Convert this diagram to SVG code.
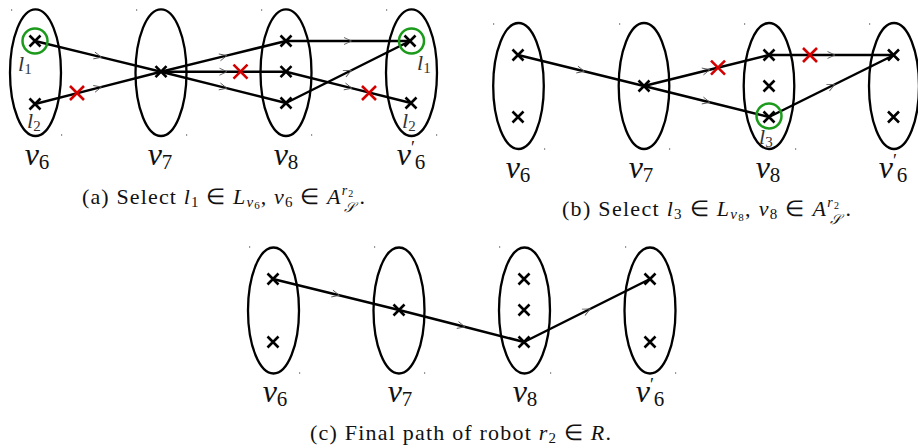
<svg xmlns="http://www.w3.org/2000/svg" xmlns:xlink="http://www.w3.org/1999/xlink" width="918" height="448" viewBox="0 0 918 448">
<style>
.ell{fill:none;stroke:#000;stroke-width:2.3}
.x{stroke:#000;stroke-width:2.6;fill:none}
.rx{stroke:#d40000;stroke-width:2.6;fill:none}
.gc{fill:none;stroke:#1c9a1c;stroke-width:2.5}
.e{fill:none;stroke:#000;stroke-width:2.5;marker-mid:url(#chev)}
.lab{font-family:"Liberation Serif",serif;font-style:italic;font-size:32px;fill:#111}
.sub{font-style:normal;font-size:21px}
.pr{font-style:normal;font-size:18px}
.ll{font-family:"Liberation Serif",serif;font-style:italic;font-size:22px;fill:#333}
.ls{font-style:normal;font-size:15px}
.cap{font-family:"Liberation Serif",serif;font-size:22px;fill:#111}
.i{font-style:italic}
.tk{fill:#999}
</style>
<defs>
<path id="cx" d="M-5.5,-5.5L5.5,5.5M-5.5,5.5L5.5,-5.5"/>
<path id="rcx" d="M-7,-7L7,7M-7,7L7,-7"/>
<marker id="chev" markerUnits="userSpaceOnUse" markerWidth="12" markerHeight="10" viewBox="-6 -5 12 10" refX="0" refY="0" orient="auto" overflow="visible">
<path d="M-4,-3.5L3.5,0L-4,3.5" fill="none" stroke="#555" stroke-width="0.9"/>
</marker>
</defs>

<!-- ===== Panel (a) ===== -->
<g id="panel-a">
<g id="a-ticks">
<rect class="tk" x="11" y="9" width="1.2" height="2"/><rect class="tk" x="136" y="9" width="1.2" height="2"/><rect class="tk" x="261" y="9" width="1.2" height="2"/><rect class="tk" x="386" y="9" width="1.2" height="2"/>
<rect class="tk" x="61" y="134" width="1.2" height="2"/><rect class="tk" x="186" y="134" width="1.2" height="2"/><rect class="tk" x="311" y="134" width="1.2" height="2"/><rect class="tk" x="436" y="134" width="1.2" height="2"/>
</g>
<g id="a-edges">
<polyline class="e" points="35,41 98,56.4 161,71.7"/>
<polyline class="e" points="35,104 98,87.9 161,71.7"/>
<polyline class="e" points="161,71.7 223.5,56.4 286,41"/>
<polyline class="e" points="161,71.7 223.5,71.7 286,71.7"/>
<polyline class="e" points="161,71.7 223.5,87.4 286,103"/>
<polyline class="e" points="286,41 348,41 410,41"/>
<polyline class="e" points="286,71.7 348.5,87.4 411,103"/>
<polyline class="e" points="286,103 348,72 410,41"/>
<use href="#rcx" x="77" y="93" class="rx"/>
<use href="#rcx" x="240.5" y="71.7" class="rx"/>
<use href="#rcx" x="369" y="93" class="rx"/>
</g>
<g id="a-v6">
<ellipse class="ell" cx="35.5" cy="72.7" rx="25.5" ry="63.3"/>
<use href="#cx" x="35" y="41" class="x"/><use href="#cx" x="35" y="104" class="x"/>
<circle class="gc" cx="35" cy="41" r="12.5"/>
<text class="ll" x="18" y="71">l<tspan class="ls" dy="3">1</tspan></text>
<text class="ll" x="27" y="128">l<tspan class="ls" dy="3">2</tspan></text>
<text class="lab" x="37" y="165" text-anchor="middle">v<tspan class="sub" dy="4">6</tspan></text>
</g>
<g id="a-v7">
<ellipse class="ell" cx="161" cy="72.7" rx="25.5" ry="63.3"/>
<use href="#cx" x="161" y="71.7" class="x"/>
<text class="lab" x="160" y="165" text-anchor="middle">v<tspan class="sub" dy="4">7</tspan></text>
</g>
<g id="a-v8">
<ellipse class="ell" cx="286" cy="72.7" rx="25.5" ry="63.3"/>
<use href="#cx" x="286" y="41" class="x"/><use href="#cx" x="286" y="71.7" class="x"/><use href="#cx" x="286" y="103" class="x"/>
<text class="lab" x="286" y="165" text-anchor="middle">v<tspan class="sub" dy="4">8</tspan></text>
</g>
<g id="a-v6p">
<ellipse class="ell" cx="411.5" cy="72.7" rx="25.5" ry="63.3"/>
<use href="#cx" x="410" y="41" class="x"/><use href="#cx" x="411" y="103" class="x"/>
<circle class="gc" cx="411.5" cy="41" r="12.5"/>
<text class="ll" x="417" y="70">l<tspan class="ls" dy="3">1</tspan></text>
<text class="ll" x="402" y="128">l<tspan class="ls" dy="3">2</tspan></text>
<text class="lab" x="411" y="165" text-anchor="middle">v<tspan class="pr" dy="-11">′</tspan><tspan class="sub" dy="15">6</tspan></text>
</g>
<text class="cap" x="82" y="203.5" textLength="283" lengthAdjust="spacing">(a) Select <tspan class="i">l</tspan><tspan font-size="15" dy="3">1</tspan><tspan dy="-3"> ∈ </tspan><tspan class="i">L</tspan><tspan class="i" font-size="15" dy="3">v</tspan><tspan font-size="11" dy="2">6</tspan><tspan dy="-5">, </tspan><tspan class="i">v</tspan><tspan font-size="15" dy="3">6</tspan><tspan dy="-3"> ∈ </tspan><tspan class="i">A</tspan><tspan class="i" font-size="14" dy="-9">r</tspan><tspan font-size="10" dy="2">2</tspan><tspan class="i" font-size="14" dx="-10" dy="15">𝒮</tspan><tspan dx="3" dy="-8">.</tspan></text>
</g>

<!-- ===== Panel (b) ===== -->
<g id="panel-b">
<g id="b-ticks">
<rect class="tk" x="493" y="23" width="1.2" height="2"/><rect class="tk" x="619" y="23" width="1.2" height="2"/><rect class="tk" x="744" y="23" width="1.2" height="2"/><rect class="tk" x="869" y="23" width="1.2" height="2"/>
<rect class="tk" x="544" y="148" width="1.2" height="2"/><rect class="tk" x="669" y="148" width="1.2" height="2"/><rect class="tk" x="795" y="148" width="1.2" height="2"/>
</g>
<g id="b-edges">
<polyline class="e" points="518,55 581,70.5 644,86"/>
<polyline class="e" points="644,86 706.5,70.5 769,55"/>
<polyline class="e" points="644,86 706.5,101.5 769,117"/>
<polyline class="e" points="769,55 831.5,55 894,55"/>
<polyline class="e" points="769,117 831.5,86 894,55"/>
<use href="#rcx" x="718" y="67.6" class="rx"/>
<use href="#rcx" x="810" y="55" class="rx"/>
</g>
<g id="b-v6">
<ellipse class="ell" cx="518.5" cy="86" rx="25.3" ry="63"/>
<use href="#cx" x="518" y="55" class="x"/><use href="#cx" x="518" y="117" class="x"/>
<text class="lab" x="518" y="178" text-anchor="middle">v<tspan class="sub" dy="4">6</tspan></text>
</g>
<g id="b-v7">
<ellipse class="ell" cx="644" cy="86" rx="25.3" ry="63"/>
<use href="#cx" x="644" y="86" class="x"/>
<text class="lab" x="641" y="178" text-anchor="middle">v<tspan class="sub" dy="4">7</tspan></text>
</g>
<g id="b-v8">
<ellipse class="ell" cx="769" cy="86" rx="25.3" ry="63"/>
<use href="#cx" x="769" y="55" class="x"/><use href="#cx" x="769" y="86" class="x"/><use href="#cx" x="769" y="117" class="x"/>
<circle class="gc" cx="769" cy="116" r="12.5"/>
<text class="ll" x="759" y="144">l<tspan class="ls" dy="3">3</tspan></text>
<text class="lab" x="768" y="178" text-anchor="middle">v<tspan class="sub" dy="4">8</tspan></text>
</g>
<g id="b-v6p">
<ellipse class="ell" cx="894" cy="86" rx="25" ry="63"/>
<use href="#cx" x="893.5" y="55" class="x"/><use href="#cx" x="893.5" y="117" class="x"/>
<text class="lab" x="893" y="178" text-anchor="middle">v<tspan class="pr" dy="-11">′</tspan><tspan class="sub" dy="15">6</tspan></text>
</g>
<text class="cap" x="562" y="215.5" textLength="289" lengthAdjust="spacing">(b) Select <tspan class="i">l</tspan><tspan font-size="15" dy="3">3</tspan><tspan dy="-3"> ∈ </tspan><tspan class="i">L</tspan><tspan class="i" font-size="15" dy="3">v</tspan><tspan font-size="11" dy="2">8</tspan><tspan dy="-5">, </tspan><tspan class="i">v</tspan><tspan font-size="15" dy="3">8</tspan><tspan dy="-3"> ∈ </tspan><tspan class="i">A</tspan><tspan class="i" font-size="14" dy="-9">r</tspan><tspan font-size="10" dy="2">2</tspan><tspan class="i" font-size="14" dx="-10" dy="15">𝒮</tspan><tspan dx="3" dy="-8">.</tspan></text>
</g>

<!-- ===== Panel (c) ===== -->
<g id="panel-c">
<g id="c-ticks">
<rect class="tk" x="249" y="246" width="1.2" height="2"/><rect class="tk" x="374" y="246" width="1.2" height="2"/><rect class="tk" x="499" y="246" width="1.2" height="2"/><rect class="tk" x="625" y="246" width="1.2" height="2"/>
<rect class="tk" x="299" y="372" width="1.2" height="2"/><rect class="tk" x="424" y="372" width="1.2" height="2"/><rect class="tk" x="550" y="372" width="1.2" height="2"/><rect class="tk" x="675" y="372" width="1.2" height="2"/>
</g>
<g id="c-edges">
<polyline class="e" points="273,279 336,294.5 399,310"/>
<polyline class="e" points="399,310 461.5,326 524,342"/>
<polyline class="e" points="524,342 587,310.5 650,279"/>
</g>
<g id="c-v6">
<ellipse class="ell" cx="273.5" cy="310.5" rx="25.5" ry="63"/>
<use href="#cx" x="273" y="279" class="x"/><use href="#cx" x="273" y="342" class="x"/>
<text class="lab" x="275" y="402" text-anchor="middle">v<tspan class="sub" dy="4">6</tspan></text>
</g>
<g id="c-v7">
<ellipse class="ell" cx="399" cy="310.5" rx="25.5" ry="63"/>
<use href="#cx" x="399" y="310" class="x"/>
<text class="lab" x="400" y="402" text-anchor="middle">v<tspan class="sub" dy="4">7</tspan></text>
</g>
<g id="c-v8">
<ellipse class="ell" cx="524.5" cy="310.5" rx="25.5" ry="63"/>
<use href="#cx" x="524" y="279" class="x"/><use href="#cx" x="524" y="310" class="x"/><use href="#cx" x="524" y="342" class="x"/>
<text class="lab" x="525" y="402" text-anchor="middle">v<tspan class="sub" dy="4">8</tspan></text>
</g>
<g id="c-v6p">
<ellipse class="ell" cx="650" cy="310.5" rx="25.5" ry="63"/>
<use href="#cx" x="650" y="279" class="x"/><use href="#cx" x="650" y="342" class="x"/>
<text class="lab" x="650" y="402" text-anchor="middle">v<tspan class="pr" dy="-11">′</tspan><tspan class="sub" dy="15">6</tspan></text>
</g>
<text class="cap" x="310" y="440" textLength="301" lengthAdjust="spacing">(c) Final path of robot <tspan class="i">r</tspan><tspan font-size="15" dy="3">2</tspan><tspan dy="-3"> ∈ </tspan><tspan class="i">R</tspan>.</text>
</g>
</svg>
